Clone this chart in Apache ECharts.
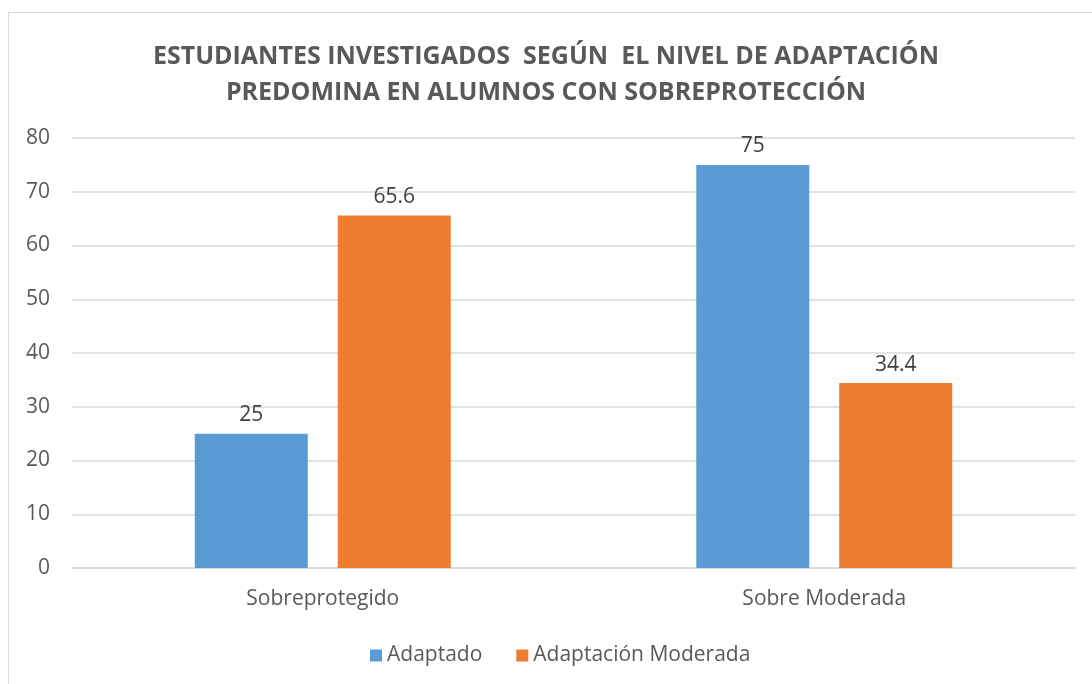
<!DOCTYPE html>
<html><head><meta charset="utf-8">
<script src="https://cdn.jsdelivr.net/npm/echarts@6/dist/echarts.min.js"></script>
<style>
html,body{margin:0;padding:0;background:#fff;}
#frame{position:absolute;left:8px;top:12px;width:1100px;height:700px;border:1px solid #d9d9d9;box-sizing:border-box;}
#c{position:absolute;left:0;top:0;width:1092px;height:684px;}
</style></head>
<body>
<div id="frame"></div>
<div id="c"></div>
<script>
var titleLines = ['ESTUDIANTES INVESTIGADOS  SEGÚN  EL NIVEL DE ADAPTACIÓN', 'PREDOMINA EN ALUMNOS CON SOBREPROTECCIÓN'];
var categories = ['Sobreprotegido', 'Sobre Moderada'];
var seriesNames = ['Adaptado', 'Adaptación Moderada'];
var adaptado = [25, 75];
var adaptacionModerada = [65.6, 34.4];
var yTicks = [0, 10, 20, 30, 40, 50, 60, 70, 80];

var chart = echarts.init(document.getElementById('c'), null, {renderer: 'canvas'});
var font = '"Open Sans", "Noto Sans", sans-serif';
var labelStyle = {show: true, position: 'top', color: '#404040', fontSize: 21, fontFamily: font, distance: 8};
chart.setOption({
  backgroundColor: 'transparent',
  animation: false,
  title: {
    text: titleLines.join('\n'),
    left: 'center', top: 34,
    textStyle: {color: '#595959', fontSize: 25, fontWeight: 'bold', fontFamily: font, lineHeight: 36}
  },
  legend: {
    data: seriesNames, top: 640, left: 365,
    itemWidth: 12, itemHeight: 12, itemGap: 34, icon: 'rect',
    textStyle: {color: '#595959', fontSize: 21, fontFamily: font}
  },
  grid: {left: 72, right: 17, top: 138, bottom: 116, containLabel: false},
  xAxis: {
    type: 'category', data: categories,
    axisLine: {lineStyle: {color: '#d9d9d9', width: 1.5}},
    axisTick: {show: false},
    axisLabel: {color: '#595959', fontSize: 21, fontFamily: font, margin: 21}
  },
  yAxis: {
    type: 'value', min: yTicks[0], max: yTicks[yTicks.length - 1], interval: 10,
    axisLine: {show: false}, axisTick: {show: false},
    splitLine: {lineStyle: {color: '#d9d9d9', width: 1.5}},
    axisLabel: {color: '#595959', fontSize: 21, fontFamily: font, margin: 22}
  },
  series: [
    {name: seriesNames[0], type: 'bar', data: adaptado, itemStyle: {color: '#5b9bd5'},
     barWidth: 113, barGap: '26.5%', label: labelStyle},
    {name: seriesNames[1], type: 'bar', data: adaptacionModerada, itemStyle: {color: '#ed7d31'},
     barWidth: 113, barGap: '26.5%', label: labelStyle}
  ]
});
</script>
</body></html>
